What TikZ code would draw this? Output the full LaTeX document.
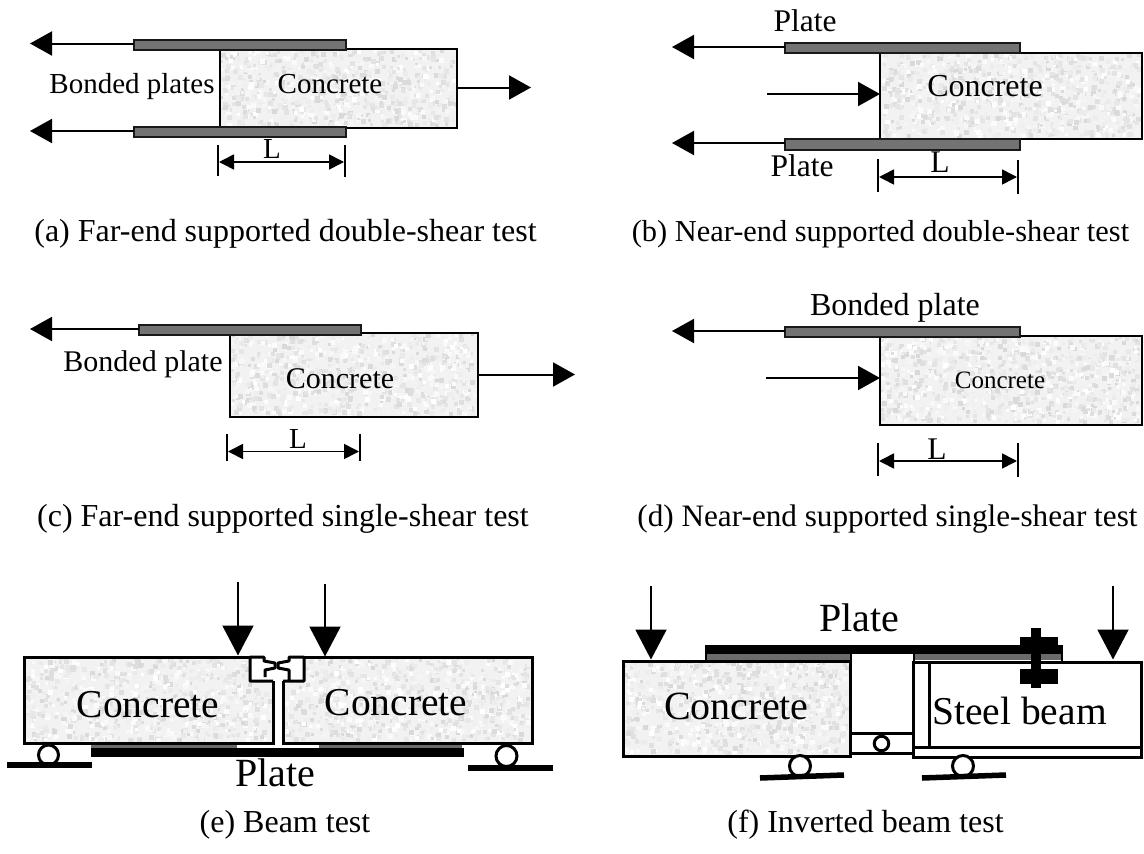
\documentclass[tikz,border=0pt]{standalone}
\usepackage{fontspec}
\setmainfont{Liberation Serif}
\usetikzlibrary{arrows.meta}
\pgfmathsetseed{4711}
\tikzset{
  lbl/.style={inner sep=0pt,outer sep=0pt,anchor=base,text=black},
  boxbase/.style={inner sep=0pt,outer sep=0pt,rectangle},
  concretebox/.style={boxbase,draw=black,line width=2pt},
  beambox/.style={boxbase,draw=black,line width=3pt},
  bondplate/.style={boxbase,draw=black!90,fill=black!55,line width=2pt},
  greystrip/.style={boxbase,fill=black!58},
  blackbar/.style={boxbase,fill=black},
  pull/.style={-{Triangle[length=22pt,width=24pt]},line width=2pt,black},
  load/.style={-{Triangle[length=30pt,width=31pt]},line width=2pt,black},
  dimen/.style={{Triangle[length=15pt,width=15pt]}-{Triangle[length=15pt,width=15pt]},line width=1.6pt,black},
  tick/.style={line width=1.3pt,black},
  hinge/.style={circle,draw=black,fill=white,inner sep=0pt,outer sep=0pt,line width=3pt},
  seat/.style={line width=5.5pt,black},
  edge/.style={line width=3pt,black,line join=round},
}
% rectangle node from its two corners
\newcommand{\rectnode}[6]{%
  \pgfmathsetmacro{\rw}{#5-#3}\pgfmathsetmacro{\rh}{#6-#4}%
  \pgfmathsetmacro{\rx}{(#3+#5)/2}\pgfmathsetmacro{\ry}{(#4+#6)/2}%
  \node[#1,minimum width=\rw pt,minimum height=\rh pt] (#2) at (\rx,\ry) {};}
% mottled concrete fill
\newcommand{\mottle}[4]{%
  \fill[black!5] (#1,#2) rectangle (#3,#4);
  \pgfmathtruncatemacro{\nb}{(#3-#1)/24*(#4-#2)}%
  \pgfmathtruncatemacro{\wr}{#3-#1-5}\pgfmathtruncatemacro{\hr}{#4-#2-5}%
  \foreach \i in {1,...,\nb}{%
    \pgfmathrandominteger{\ax}{0}{\wr}\pgfmathrandominteger{\ay}{0}{\hr}%
    \pgfmathrandominteger{\sh}{0}{15}\pgfmathrandominteger{\bs}{3}{5}%
    \fill[black!\sh] (#1+\ax,#2+\ay) rectangle ++(\bs,\bs);
  }}
\newcommand{\lab}[5]{\pgfmathsetmacro{\ly}{#3+.28*#4}\node[lbl,font=\fontsize{#4}{#4}\selectfont] (#1) at (#2,\ly) {#5};}
\begin{document}
\begin{tikzpicture}[x=1pt,y=-1pt]
\useasboundingbox (0,0) rectangle (1144,854);
\fill[white] (0,0) rectangle (1144,854);

% ---------- (a)
\mottle{220}{49}{457}{128}
\rectnode{concretebox}{ac}{220}{49}{457}{128}
\rectnode{bondplate}{ap1}{134}{40}{346}{49.5}
\rectnode{bondplate}{ap2}{134}{127}{346}{137}
\coordinate (at1) at (30,43.5); \coordinate (at2) at (30,131); \coordinate (at3) at (531,87.5);
\draw[pull] (ap1.west |- at1) -- (at1);
\draw[pull] (ap2.west |- at2) -- (at2);
\draw[pull] (ac.east |- at3) -- (at3);
\lab{abp}{132}{85}{29}{Bonded plates}
\lab{acl}{330}{85}{29}{Concrete}
\coordinate (ad1a) at (218,145); \coordinate (ad1b) at (218,176);
\coordinate (ad2a) at (345,145); \coordinate (ad2b) at (345,177);
\draw[tick] (ad1a) -- (ad1b); \draw[tick] (ad2a) -- (ad2b);
\coordinate (ada) at (219,162); \coordinate (adb) at (344,162);
\draw[dimen] (ada) -- (adb);
\lab{al}{272}{150}{29}{L}
\lab{acap}{285.5}{232.5}{32}{(a) Far-end supported double-shear test}

% ---------- (b)
\mottle{880}{53}{1142}{139}
\rectnode{concretebox}{bc}{880}{53}{1142}{139}
\rectnode{bondplate}{bp1}{785}{43}{1020}{53}
\rectnode{bondplate}{bp2}{785}{139}{1020}{149.5}
\coordinate (bt1) at (672,47); \coordinate (bt2) at (672,143);
\coordinate (bs3) at (767,94); \coordinate (bt3) at (880,94);
\draw[pull] (bp1.west |- bt1) -- (bt1);
\draw[pull] (bp2.west |- bt2) -- (bt2);
\draw[pull] (bs3) -- (bt3);
\lab{bl1}{805}{23}{31.5}{Plate}
\lab{bl2}{802}{168}{31.5}{Plate}
\lab{bcl}{985}{88}{32}{Concrete}
\coordinate (bd1a) at (878,159); \coordinate (bd1b) at (878,192);
\coordinate (bd2a) at (1018,160); \coordinate (bd2b) at (1018,194);
\draw[tick] (bd1a) -- (bd1b); \draw[tick] (bd2a) -- (bd2b);
\coordinate (bda) at (879,177); \coordinate (bdb) at (1017,177);
\draw[dimen] (bda) -- (bdb);
\lab{bL}{940}{164}{31.5}{L}
\lab{bcap}{880.5}{232.5}{30.4}{(b) Near-end supported double-shear test}

% ---------- (c)
\mottle{230}{333}{478}{417}
\rectnode{concretebox}{cc}{230}{333}{478}{417}
\rectnode{bondplate}{cp1}{139}{324.5}{361}{334.5}
\coordinate (ct1) at (30,329); \coordinate (ct3) at (575,374.5);
\draw[pull] (cp1.west |- ct1) -- (ct1);
\draw[pull] (cc.east |- ct3) -- (ct3);
\lab{cbp}{143}{363}{30}{Bonded plate}
\lab{ccl}{340}{380}{30}{Concrete}
\coordinate (cd1a) at (227,434); \coordinate (cd1b) at (227,461);
\coordinate (cd2a) at (360,434); \coordinate (cd2b) at (360,461);
\draw[tick] (cd1a) -- (cd1b); \draw[tick] (cd2a) -- (cd2b);
\coordinate (cda) at (228,451.5); \coordinate (cdb) at (359,451.5);
\draw[dimen] (cda) -- (cdb);
\lab{cL}{298}{440}{29}{L}
\lab{ccap}{283}{518}{32}{(c) Far-end supported single-shear test}

% ---------- (d)
\mottle{880}{336}{1142}{425}
\rectnode{concretebox}{dc}{880}{336}{1142}{425}
\rectnode{bondplate}{dp1}{785}{327}{1020}{337}
\coordinate (dt1) at (672,331); \coordinate (ds3) at (766,378); \coordinate (dt3) at (880,378);
\draw[pull] (dp1.west |- dt1) -- (dt1);
\draw[pull] (ds3) -- (dt3);
\lab{dbp}{895}{307}{32}{Bonded plate}
\lab{dcl}{1000}{381}{25}{Concrete}
\coordinate (dd1a) at (878,443); \coordinate (dd1b) at (878,476);
\coordinate (dd2a) at (1018,443); \coordinate (dd2b) at (1018,477);
\draw[tick] (dd1a) -- (dd1b); \draw[tick] (dd2a) -- (dd2b);
\coordinate (dda) at (879,461); \coordinate (ddb) at (1017,461);
\draw[dimen] (dda) -- (ddb);
\lab{dL}{937}{451}{31.5}{L}
\lab{dcap}{887.5}{518}{31.2}{(d) Near-end supported single-shear test}

% ---------- (e)
\mottle{24}{657}{273}{743}
\mottle{283}{657}{532}{743}
\rectnode{beambox}{el}{24}{657}{273}{743}
\rectnode{beambox}{er}{283}{657}{532}{743}
\fill[white] (249.5,654) rectangle (304,681);
\draw[edge] (273,681) -- (250,681) -- (250,657) -- (264,657) -- (264,661) -- (275,663) -- (275,668) -- (265,670) -- (265,677);
\draw[edge] (283,681) -- (304,681) -- (304,657) -- (289,657) -- (289,661) -- (278,663) -- (278,668) -- (289,670) -- (289,681);
\rectnode{greystrip}{es1}{91}{744.5}{237}{749}
\rectnode{greystrip}{es2}{319}{744.5}{462}{749}
\rectnode{blackbar}{ebar}{91}{748}{463.5}{757}
\node[hinge,minimum size=20pt] (er1) at (48.5,755) {};
\node[hinge,minimum size=21pt] (er2) at (506.5,756) {};
\coordinate (es1a) at (7,765); \coordinate (es1b) at (92,765);
\coordinate (es2a) at (468,768); \coordinate (es2b) at (553,768);
\draw[seat] (es1a) -- (es1b); \draw[seat] (es2a) -- (es2b);
\coordinate (ea1) at (238,582); \coordinate (eb1) at (238,655.5);
\coordinate (ea2) at (325,584); \coordinate (eb2) at (325,656.5);
\draw[load] (ea1) -- (eb1); \draw[load] (ea2) -- (eb2);
\lab{ecl1}{148}{706}{39.5}{Concrete}
\lab{ecl2}{396}{704}{39.5}{Concrete}
\lab{epl}{275.5}{775}{40}{Plate}
\lab{ecap}{285}{824}{32}{(e) Beam test}

% ---------- (f)
\mottle{623}{661}{850}{756}
\rectnode{beambox}{fc}{623}{661}{850}{756}
\rectnode{beambox}{fs}{913.5}{662}{1141}{757}
\coordinate (fi1) at (929.5,662); \coordinate (fi2) at (929.5,747);
\coordinate (fi3) at (913.5,747); \coordinate (fi4) at (1141,747);
\draw[edge] (fi1) -- (fi2); \draw[edge] (fi3) -- (fi4);
\coordinate (fl1a) at (850,733.5); \coordinate (fl1b) at (913.5,733.5);
\coordinate (fl2a) at (850,753); \coordinate (fl2b) at (913.5,753);
\draw[edge] (fl1a) -- (fl1b); \draw[edge] (fl2a) -- (fl2b);
\node[hinge,minimum size=14.5pt] (fh) at (881.5,743.5) {};
\rectnode{greystrip}{fg1}{706}{654}{850}{660}
\rectnode{greystrip}{fg2}{914}{654}{1063}{660}
\rectnode{blackbar}{fbar}{705}{645}{1063}{654}
\rectnode{blackbar}{fe1}{705}{654}{707}{661}
\rectnode{blackbar}{fe2}{1061}{654}{1063}{662}
\rectnode{blackbar}{fe3}{850}{654}{852}{661}
\rectnode{blackbar}{fe4}{912.5}{654}{914.5}{662}
\rectnode{blackbar}{fbolt}{1031}{628}{1041}{688}
\rectnode{blackbar}{fn1}{1020}{637}{1058}{648}
\rectnode{blackbar}{fn2}{1020}{669}{1058}{684}
\node[hinge,minimum size=21pt] (fr1) at (800,766) {};
\node[hinge,minimum size=21pt] (fr2) at (963,766) {};
\coordinate (fs1a) at (760,778); \coordinate (fs1b) at (844,775);
\coordinate (fs2a) at (922,778); \coordinate (fs2b) at (1006,775);
\draw[seat] (fs1a) -- (fs1b); \draw[seat] (fs2a) -- (fs2b);
\coordinate (fa1) at (651,586); \coordinate (fb1) at (651,659.5);
\coordinate (fa2) at (1113,586); \coordinate (fb2) at (1113,659.5);
\draw[load] (fa1) -- (fb1); \draw[load] (fa2) -- (fb2);
\lab{fpl}{859.5}{620}{40}{Plate}
\lab{fcl}{736.5}{708}{40}{Concrete}
\lab{fsl}{1019.5}{713}{39.5}{Steel beam}
\lab{fcap}{865.5}{824}{32}{(f) Inverted beam test}
\end{tikzpicture}
\end{document}
